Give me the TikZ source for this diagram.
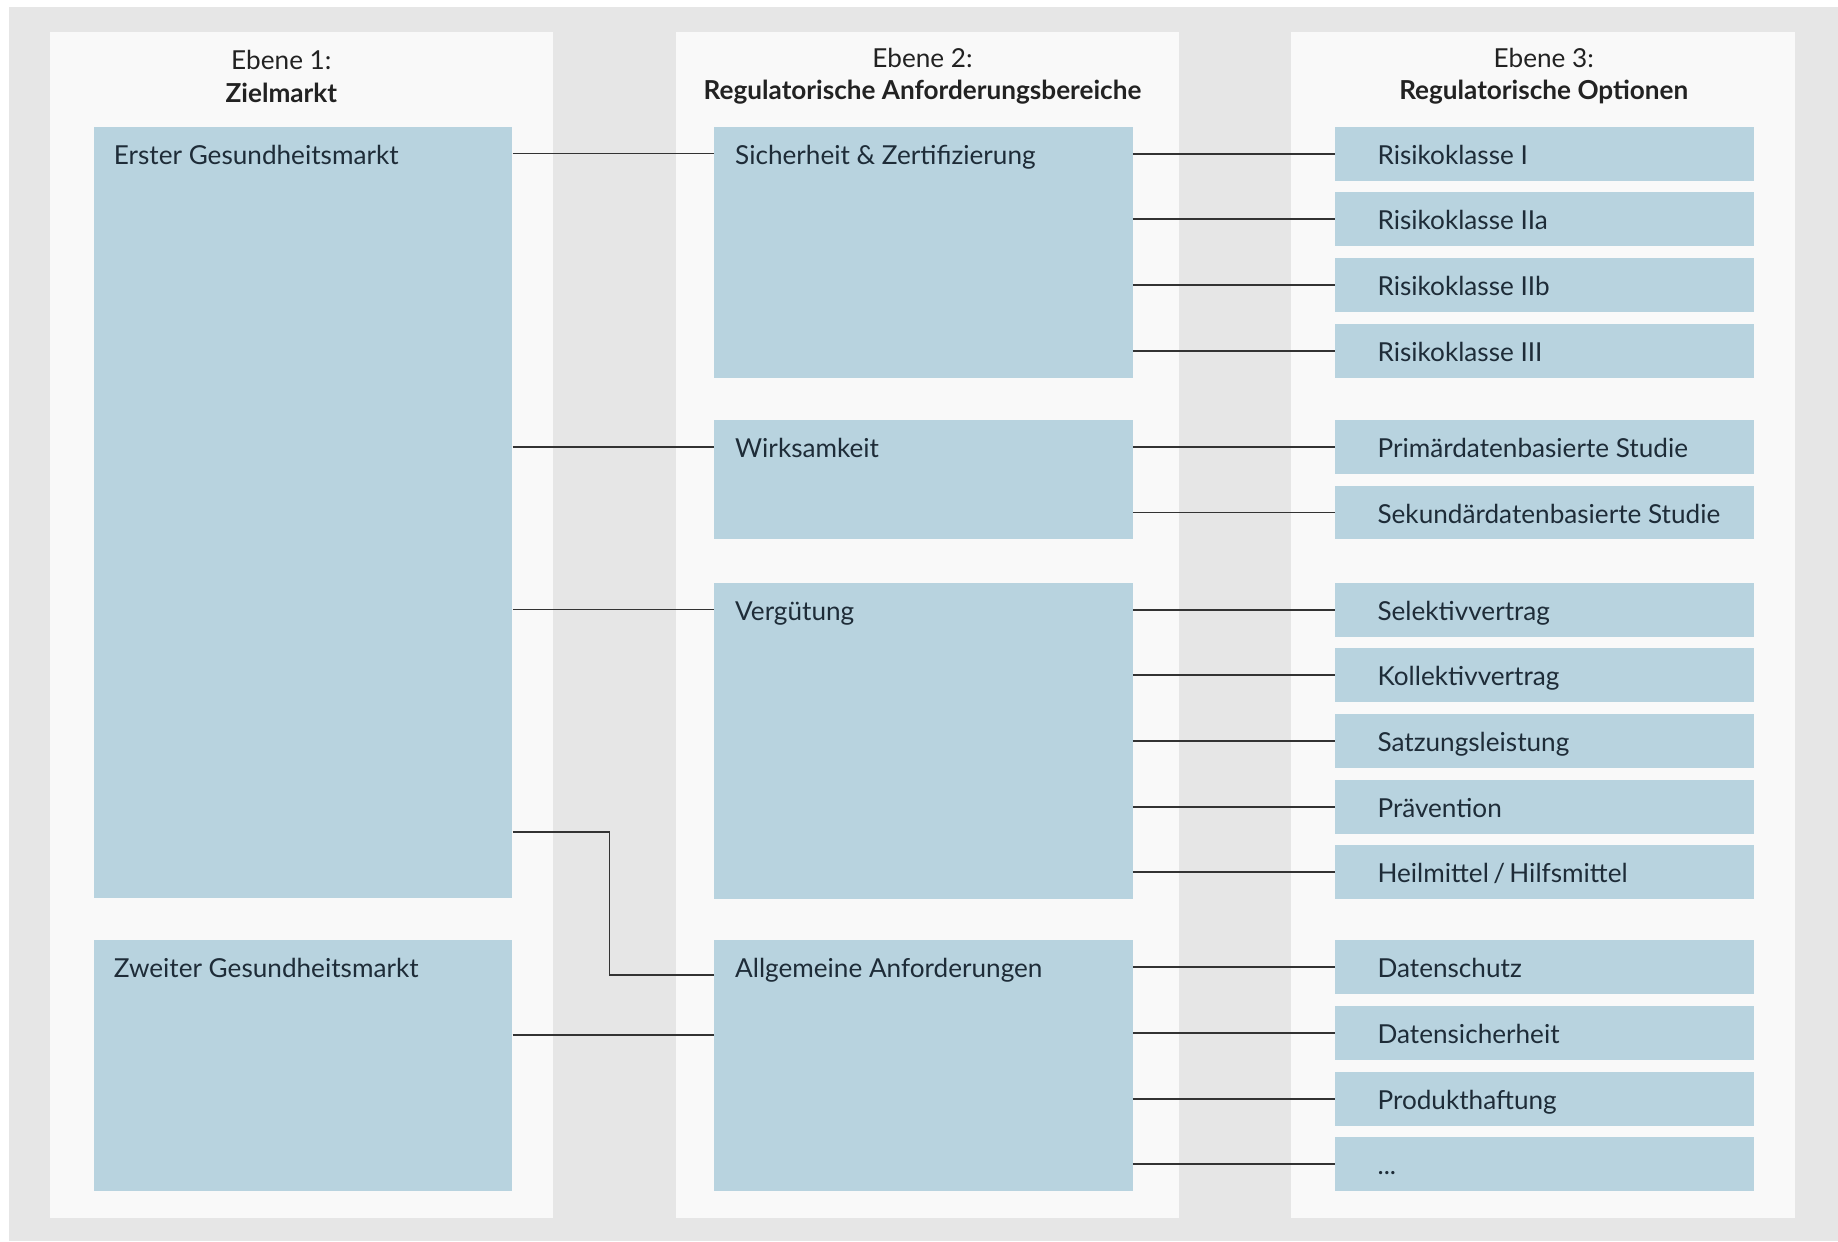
\documentclass[tikz,border=0pt]{standalone}
\usepackage{fontspec}
\setmainfont{Lato}
\usetikzlibrary{positioning,calc}

\definecolor{bggray}{HTML}{E6E6E6}
\definecolor{panelbg}{HTML}{F9F9F9}
\definecolor{boxblue}{HTML}{B8D3DF}
\definecolor{boxtext}{HTML}{1E2C38}
\definecolor{headtext}{HTML}{222222}
\definecolor{linecol}{HTML}{333333}

\tikzset{
  panel/.style={fill=panelbg, draw=none},
  bigbox/.style={fill=boxblue, draw=none, anchor=north west, inner sep=0pt,
                 minimum width=357pt},
  lbl/.style={anchor=west, inner sep=0pt, text=boxtext,
              text height=20pt, text depth=2pt,
              font=\fontsize{22.3}{26}\selectfont},
  optbox/.style={fill=boxblue, draw=none, anchor=north west, inner sep=0pt,
                 minimum width=357pt, minimum height=46pt, text=boxtext,
                 text height=20pt, text depth=2pt,
                 font=\fontsize{22.3}{26}\selectfont},
  head/.style={align=center, text=headtext, inner sep=0pt,
               font=\fontsize{22.3}{28}\selectfont},
  conn/.style={draw=linecol, line width=1.6pt},
}

% option row: name, top y, text
\newcommand{\optrow}[3]{%
  \node[optbox] (#1) at (1139,#2) {\makebox[357pt][l]{\hspace{36pt}#3}};}

\begin{document}
\begin{tikzpicture}[x=1pt,y=-1pt]
  \useasboundingbox (0,0) rectangle (1568,1059);
  \fill[white] (0,0) rectangle (1568,1059);
  \fill[bggray] (8,6) rectangle (1568,1059);

  % column panels
  \fill[panel] (43,27) rectangle (472,1039);
  \fill[panel] (577,27) rectangle (1006,1039);
  \fill[panel] (1101,27) rectangle (1531,1039);

  % column headings
  \node[head] (h1) at (240,65) {Ebene 1:\\\textbf{Zielmarkt}};
  \node[head] (h2) at (787,65) {Ebene 2:\\\textbf{Regulatorische Anforderungsbereiche}};
  \node[head] (h3) at (1317,65) {Ebene 3:\\\textbf{Regulatorische Optionen}};

  % level 1: target market
  \node[bigbox, minimum height=658pt] (erster) at (80,108) {};
  \node[lbl] (erster-t) at ([xshift=17pt,yshift=-23pt]erster.north west) {Erster Gesundheitsmarkt};
  \node[bigbox, minimum height=214pt] (zweiter) at (80,802) {};
  \node[lbl] (zweiter-t) at ([xshift=17pt,yshift=-23pt]zweiter.north west) {Zweiter Gesundheitsmarkt};

  % level 2: requirement areas
  \node[bigbox, minimum height=214pt] (sich) at (609,108) {};
  \node[lbl] (sich-t) at ([xshift=18pt,yshift=-23pt]sich.north west) {Sicherheit \& Zertifizierung};
  \node[bigbox, minimum height=102pt] (wirk) at (609,358) {};
  \node[lbl] (wirk-t) at ([xshift=18pt,yshift=-23pt]wirk.north west) {Wirksamkeit};
  \node[bigbox, minimum height=270pt] (verg) at (609,497) {};
  \node[lbl] (verg-t) at ([xshift=18pt,yshift=-23pt]verg.north west) {Vergütung};
  \node[bigbox, minimum height=214pt] (allg) at (609,802) {};
  \node[lbl] (allg-t) at ([xshift=18pt,yshift=-23pt]allg.north west) {Allgemeine Anforderungen};

  % level 3: regulatory options
  \optrow{r1}{108}{Risikoklasse I}
  \optrow{r2}{164}{Risikoklasse IIa}
  \optrow{r3}{220}{Risikoklasse IIb}
  \optrow{r4}{276}{Risikoklasse III}
  \optrow{w1}{358}{Primärdatenbasierte Studie}
  \optrow{w2}{414}{Sekundärdatenbasierte Studie}
  \optrow{v1}{497}{Selektivvertrag}
  \optrow{v2}{553}{Kollektivvertrag}
  \optrow{v3}{609}{Satzungsleistung}
  \optrow{v4}{665}{Prävention}
  \optrow{v5}{721}{Heilmittel\,/\,Hilfsmittel}
  \optrow{a1}{802}{Datenschutz}
  \optrow{a2}{858}{Datensicherheit}
  \optrow{a3}{914}{Produkthaftung}
  \optrow{a4}{970}{...}

  % connectors level 1 -> level 2
  \draw[conn] (erster.east |- sich-t) -- (sich.west |- sich-t);
  \draw[conn] (erster.east |- wirk-t) -- (wirk.west |- wirk-t);
  \draw[conn] (erster.east |- verg-t) -- (verg.west |- verg-t);
  \coordinate (elbow) at (520,710);
  \draw[conn] (erster.east |- elbow) -- (elbow) |- ($(allg.west |- allg-t)+(0,7)$);
  \draw[conn] (zweiter.east |- 0,883) -- (allg.west |- 0,883);

  % connectors level 2 -> level 3
  \foreach \r in {r1,r2,r3,r4} \draw[conn] (sich.east |- \r.west) -- (\r.west);
  \foreach \r in {w1,w2} \draw[conn] (wirk.east |- \r.west) -- (\r.west);
  \foreach \r in {v1,v2,v3,v4,v5} \draw[conn] (verg.east |- \r.west) -- (\r.west);
  \foreach \r in {a1,a2,a3,a4} \draw[conn] (allg.east |- \r.west) -- (\r.west);
\end{tikzpicture}
\end{document}
